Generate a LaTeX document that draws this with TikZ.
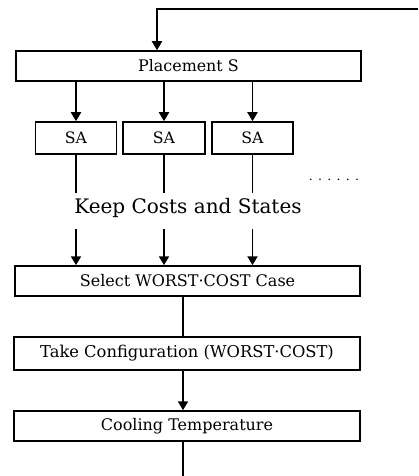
\documentclass[tikz,border=0pt]{standalone}
\usepackage{fontspec}
\setmainfont{DejaVu Serif}
\usetikzlibrary{arrows.meta,calc}
\begin{document}
\begin{tikzpicture}[x=1pt,y=-1pt,
  box/.style={draw, line width=1.5pt, rectangle, inner sep=0pt, minimum height=30pt},
  wide/.style={box, minimum width=345pt},
  sabox/.style={box, minimum width=81pt, minimum height=32pt, font=\fontsize{15.7}{18}\selectfont},
  arr/.style={line width=1.9pt, -{Triangle[width=10pt,length=9pt]}},
  plain/.style={line width=1.3pt}]
\useasboundingbox (0,0) rectangle (418,476);

% main boxes
\node[wide, font=\fontsize{15.9}{18}\selectfont] (place) at (188.5,66) {Placement S};
\node[sabox] (sa1) at (76,138) {SA};
\node[sabox, minimum width=82pt] (sa2) at (164,138) {SA};
\node[sabox] (sa3) at (252.5,138) {SA};
\node[font=\fontsize{20}{24}\selectfont] (keep) at (188,208) {Keep Costs and States};
\node[font=\fontsize{12.5}{15}\selectfont] (dots) at (334,180) {. . . . . .};
\node[wide, font=\fontsize{16}{18}\selectfont] (select) at (187.5,281) {Select WORST·COST Case};
\node[wide, minimum width=346pt, minimum height=33pt, font=\fontsize{16.3}{18}\selectfont] (take) at (187,353.5) {Take Configuration (WORST·COST)};
\node[wide, minimum width=346pt, font=\fontsize{16}{18}\selectfont] (cool) at (187,426) {Cooling Temperature};

% loop-back line entering from the right
\coordinate (back) at (418,9);
\coordinate (backc) at (157,9);
\draw[arr] (back) -- (backc) -- (backc |- place.north);

% fan-out to the SA runs and gathering of their results
\foreach \i in {1,2,3}{
  \draw[arr] (place.south -| sa\i.north) -- (sa\i.north);
  \coordinate (kt\i) at ($(sa\i.south)+(0,38)$);
  \coordinate (kb\i) at ($(sa\i.south)+(0,74)$);
  \draw[plain] (sa\i.south) -- (kt\i);
  \draw[arr] (kb\i) -- (kb\i |- select.north);
}

% sequential steps
\coordinate (mid) at (183,0);
\draw[plain] (select.south -| mid) -- (take.north -| mid);
\draw[arr] (take.south -| mid) -- (cool.north -| mid);
\coordinate (out) at (183,476);
\draw[plain] (cool.south -| mid) -- (out);
\end{tikzpicture}
\end{document}
